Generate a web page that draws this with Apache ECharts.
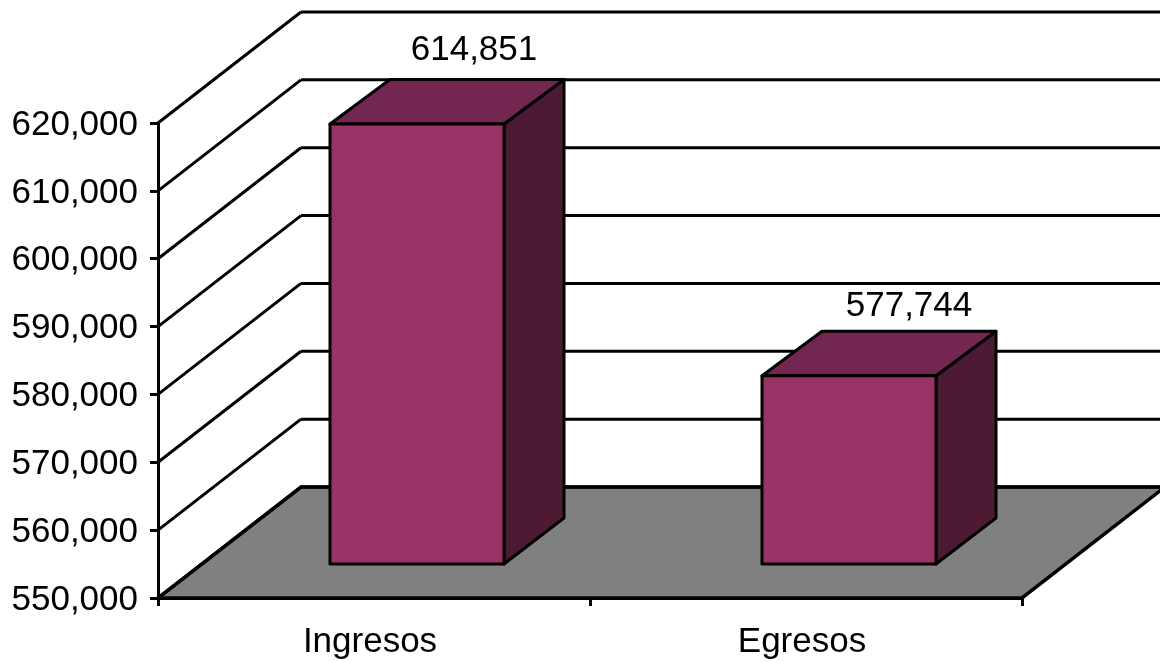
<!DOCTYPE html>
<html><head><meta charset="utf-8">
<style>html,body{margin:0;padding:0;background:#fff}#c{width:1160px;height:662px}</style>
<script src="https://cdn.jsdelivr.net/npm/echarts@6/dist/echarts.min.js"></script>
</head><body><div id="c"></div>
<script>
const categories = ['Ingresos', 'Egresos'];
const values = [614851, 577744];
const ticks = [550000, 560000, 570000, 580000, 590000, 600000, 610000, 620000];

const WALL_DX = 143, WALL_DY = -111;   // depth of the whole 3D box
const BAR_X = 43, BAR_Y = -34;         // where a bar's front face sits in the box
const BAR_DX = 60, BAR_DY = -46, BAR_TOP_DY = -44.5;  // depth of a bar
const BAR_W = 174;
const LABEL_DX = [57, 60], LABEL_DY = [-74, -69];
const FONT = '"Liberation Sans", Arial, sans-serif';
const lineStyle = {stroke: '#000', lineWidth: 3, fill: null};

const fmt = v => Number(v).toLocaleString('en-US');
const chart = echarts.init(document.getElementById('c'), null, {renderer: 'canvas'});

function renderFloor(params, api) {
  const c = params.coordSys;
  const b = c.y + c.height, l = c.x, r = c.x + c.width;
  return {type: 'polygon', silent: true,
    shape: {points: [[l, b], [r, b], [r + WALL_DX, b + WALL_DY], [l + WALL_DX, b + WALL_DY]]},
    style: {fill: '#808080', stroke: '#000', lineWidth: 3.5}};
}
function renderWall(params, api) {
  const c = params.coordSys;
  const y = api.coord([0, api.value(0)])[1];
  const l = c.x, r = c.x + c.width;
  return {type: 'group', children: [
    {type: 'line', shape: {x1: l, y1: y, x2: l + WALL_DX, y2: y + WALL_DY}, style: lineStyle},
    {type: 'line', shape: {x1: l + WALL_DX, y1: y + WALL_DY, x2: r + WALL_DX, y2: y + WALL_DY}, style: lineStyle}
  ]};
}
function renderBar(params, api) {
  const idx = api.value(0), v = api.value(1);
  const top = api.coord([idx, v]), base = api.coord([idx, ticks[0]]);
  const x0 = top[0] - BAR_W / 2 + BAR_X, x1 = x0 + BAR_W;
  const yT = top[1] + BAR_Y, yB = base[1] + BAR_Y;
  const edge = {stroke: '#000', lineWidth: 3, lineJoin: 'round'};
  return {type: 'group', children: [
    {type: 'polygon', shape: {points: [[x1, yT], [x1 + BAR_DX, yT + BAR_TOP_DY], [x1 + BAR_DX, yB + BAR_DY], [x1, yB]]},
      style: Object.assign({fill: '#4d1a33'}, edge)},
    {type: 'polygon', shape: {points: [[x0, yT], [x0 + BAR_DX, yT + BAR_TOP_DY], [x1 + BAR_DX, yT + BAR_TOP_DY], [x1, yT]]},
      style: Object.assign({fill: '#732650'}, edge)},
    {type: 'rect', shape: {x: x0, y: yT, width: BAR_W, height: yB - yT},
      style: Object.assign({fill: '#993366'}, edge)},
    {type: 'text', x: x0 + BAR_W / 2 + LABEL_DX[idx], y: yT + LABEL_DY[idx],
      style: {text: fmt(v), font: '35px ' + FONT, fill: '#000', align: 'center', verticalAlign: 'middle'}}
  ]};
}

chart.setOption({
  animation: false,
  backgroundColor: '#fff',
  grid: {left: 158, top: 123, width: 864, height: 475, containLabel: false},
  xAxis: {type: 'category', data: categories, boundaryGap: true,
    axisLine: {show: true, lineStyle: {color: '#000', width: 3}},
    axisTick: {show: true, length: 8, lineStyle: {color: '#000', width: 3}},
    axisLabel: {color: '#000', fontSize: 35, fontFamily: FONT, margin: 27, padding: [0, 8, 0, 0]},
    splitLine: {show: false}, z: 5},
  yAxis: {type: 'value', min: 550000, max: 620000, interval: 10000,
    axisLine: {show: true, lineStyle: {color: '#000', width: 3}},
    axisTick: {show: true, length: 8, lineStyle: {color: '#000', width: 3}},
    axisLabel: {margin: 20, formatter: v => '{a|' + fmt(v) + '}',
      rich: {a: {color: '#000', fontSize: 35, fontFamily: FONT, padding: [4, 0, 0, 0]}}},
    splitLine: {show: false}, z: 5},
  series: [
    {type: 'custom', name: 'floor', renderItem: renderFloor, data: [[ticks[0]]], clip: false, z: 1, silent: true},
    {type: 'custom', name: 'walls', renderItem: renderWall, data: ticks.map(t => [t]), clip: false, z: 2, silent: true, encode: {y: 0}},
    {type: 'custom', name: 'bars', renderItem: renderBar, data: values.map((v, i) => [i, v]), clip: false, z: 3, encode: {x: 0, y: 1}}
  ]
});
</script></body></html>
